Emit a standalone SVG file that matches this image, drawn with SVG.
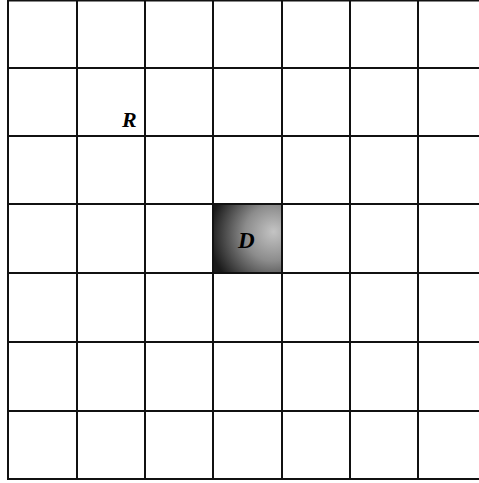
<svg xmlns="http://www.w3.org/2000/svg" width="479" height="483" viewBox="0 0 479 483">
<style>
.g line{stroke:#111;stroke-width:2;}
.lbl{font-family:"Liberation Serif","DejaVu Serif",serif;font-weight:bold;font-style:italic;fill:#000;}
</style>
<defs>
<radialGradient id="shade" cx="0.85" cy="0.45" r="0.9" fx="0.88" fy="0.4">
<stop offset="0" stop-color="#c4c4c4"/>
<stop offset="0.45" stop-color="#8c8c8c"/>
<stop offset="1" stop-color="#1a1a1a"/>
</radialGradient>
</defs>
<rect width="479" height="483" fill="#fff"/>
<g id="cell-D">
<rect x="213" y="204" width="69" height="69" fill="url(#shade)"/>
<text class="lbl" x="238" y="248" font-size="23">D</text>
</g>
<g id="label-R">
<text class="lbl" x="122" y="127" font-size="22">R</text>
</g>
<g id="grid" class="g">
<line x1="8" y1="0" x2="8" y2="480"/>
<line x1="77" y1="0" x2="77" y2="480"/>
<line x1="145" y1="0" x2="145" y2="480"/>
<line x1="213" y1="0" x2="213" y2="480"/>
<line x1="282" y1="0" x2="282" y2="480"/>
<line x1="350" y1="0" x2="350" y2="480"/>
<line x1="418" y1="0" x2="418" y2="480"/>
<line x1="7" y1="0.5" x2="479" y2="0.5"/>
<line x1="7" y1="68" x2="479" y2="68"/>
<line x1="7" y1="136" x2="479" y2="136"/>
<line x1="7" y1="204" x2="479" y2="204"/>
<line x1="7" y1="273" x2="479" y2="273"/>
<line x1="7" y1="342" x2="479" y2="342"/>
<line x1="7" y1="411" x2="479" y2="411"/>
<line x1="7" y1="479" x2="479" y2="479"/>
</g>
</svg>
